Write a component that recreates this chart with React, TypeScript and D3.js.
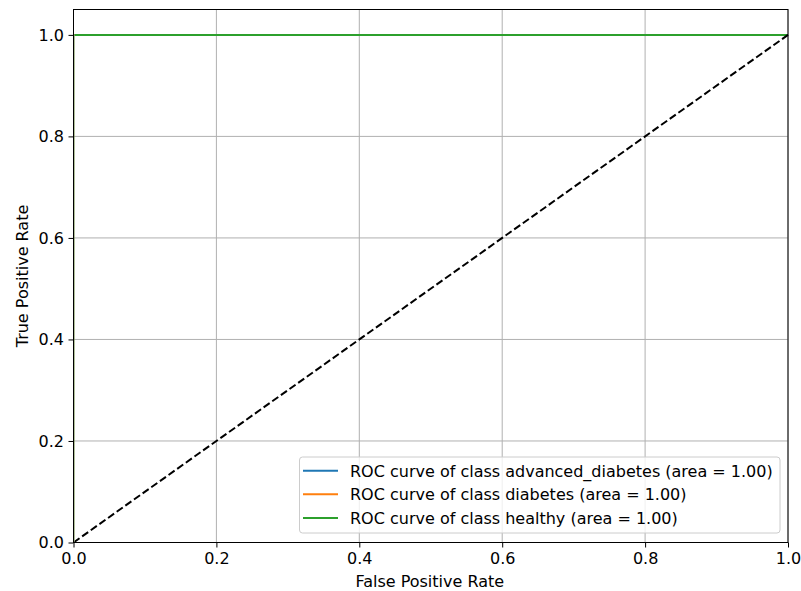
import React, { useEffect, useRef } from "react";
import * as d3 from "d3";

// ROC curves per class (fpr, tpr)
const classNames = ["advanced_diabetes", "diabetes", "healthy"];
const classAreas = [1.0, 1.0, 1.0];
const classFpr = [
  [0, 0, 1],
  [0, 0, 1],
  [0, 0, 1],
];
const classTpr = [
  [0, 1, 1],
  [0, 1, 1],
  [0, 1, 1],
];
const classColors = ["#1f77b4", "#ff7f0e", "#2ca02c"];
const diagonal = [0, 1];
const xTicks = [0, 0.2, 0.4, 0.6, 0.8, 1.0];
const yTicks = [0, 0.2, 0.4, 0.6, 0.8, 1.0];

const W = 801;
const H = 591;
const margin = { top: 9.5, right: 13, bottom: 48.5, left: 73.5 };
const FONT = "DejaVu Sans";
const FS = 16;

export default function App() {
  const ref = useRef<SVGSVGElement>(null);

  useEffect(() => {
    const svg = d3.select(ref.current);
    svg.selectAll("*").remove();
    const iw = W - margin.left - margin.right;
    const ih = H - margin.top - margin.bottom;

    const x = d3.scaleLinear().domain([0, 1]).range([0, iw]);
    const y = d3.scaleLinear().domain([0, 1.05]).range([ih, 0]);

    const g = svg.append("g").attr("transform", `translate(${margin.left},${margin.top})`);

    // grid
    g.append("g").selectAll("line").data(xTicks).enter().append("line")
      .attr("x1", (d) => x(d)).attr("x2", (d) => x(d))
      .attr("y1", 0).attr("y2", ih)
      .attr("stroke", "#b0b0b0").attr("stroke-width", 1);
    g.append("g").selectAll("line").data(yTicks).enter().append("line")
      .attr("y1", (d) => y(d)).attr("y2", (d) => y(d))
      .attr("x1", 0).attr("x2", iw)
      .attr("stroke", "#b0b0b0").attr("stroke-width", 1);

    // clip a hair inside the left spine, the vertical bit at fpr=0 sits under it
    const clip = svg.append("defs").append("clipPath").attr("id", "plotclip");
    clip.append("rect").attr("x", 1.05).attr("y", 0).attr("width", iw).attr("height", ih);

    const plot = g.append("g").attr("clip-path", "url(#plotclip)");
    const line = d3.line<[number, number]>().x((d) => x(d[0])).y((d) => y(d[1]));

    classNames.forEach((name, i) => {
      const pts: [number, number][] = classFpr[i].map((f, j) => [f, classTpr[i][j]]);
      plot.append("path").attr("d", line(pts))
        .attr("fill", "none").attr("stroke", classColors[i]).attr("stroke-width", 2);
    });

    plot.append("path")
      .attr("d", line(diagonal.map((d) => [d, d] as [number, number])))
      .attr("fill", "none").attr("stroke", "#000").attr("stroke-width", 2)
      .attr("stroke-dasharray", "7.4,3.2");

    // axes
    const xAxis = d3.axisBottom(x).tickValues(xTicks).tickFormat(d3.format(".1f")).tickSize(5).tickPadding(5.5);
    const yAxis = d3.axisLeft(y).tickValues(yTicks).tickFormat(d3.format(".1f")).tickSize(5).tickPadding(4.5);
    const gx = g.append("g").attr("transform", `translate(0,${ih})`).call(xAxis);
    const gy = g.append("g").call(yAxis);
    [gx, gy].forEach((ax) => {
      ax.select(".domain").remove();
      ax.selectAll("line").attr("stroke", "#000").attr("stroke-width", 1);
      ax.selectAll("text").attr("font-family", FONT).attr("font-size", FS).attr("fill", "#000");
    });

    // frame
    g.append("rect").attr("x", 0).attr("y", 0).attr("width", iw).attr("height", ih)
      .attr("fill", "none").attr("stroke", "#000").attr("stroke-width", 1);

    // labels
    svg.append("text").attr("x", margin.left + iw / 2 - 1).attr("y", 587)
      .attr("text-anchor", "middle").attr("font-family", FONT).attr("font-size", FS)
      .text("False Positive Rate");
    svg.append("text").attr("transform", `translate(28,${margin.top + ih / 2}) rotate(-90)`)
      .attr("text-anchor", "middle").attr("font-family", FONT).attr("font-size", FS)
      .text("True Positive Rate");

    // legend
    const lx = 299.5, ly = 457, lw = 480.5, lh = 76;
    const leg = svg.append("g");
    leg.append("rect").attr("x", lx).attr("y", ly).attr("width", lw).attr("height", lh)
      .attr("rx", 3).attr("fill", "#fff").attr("fill-opacity", 0.8)
      .attr("stroke", "#cccccc").attr("stroke-width", 1);
    classNames.forEach((name, i) => {
      const ry = 470.7 + i * 23.6;
      leg.append("line").attr("x1", 303).attr("x2", 338).attr("y1", ry).attr("y2", ry)
        .attr("stroke", classColors[i]).attr("stroke-width", 2);
      leg.append("text").attr("x", 350).attr("y", ry + 6)
        .attr("font-family", FONT).attr("font-size", FS)
        .text(`ROC curve of class ${name} (area = ${classAreas[i].toFixed(2)})`);
    });
  }, []);

  return (
    <svg ref={ref} width={W} height={H} style={{ position: "absolute", left: 0, top: 0, background: "#fff" }} />
  );
}
